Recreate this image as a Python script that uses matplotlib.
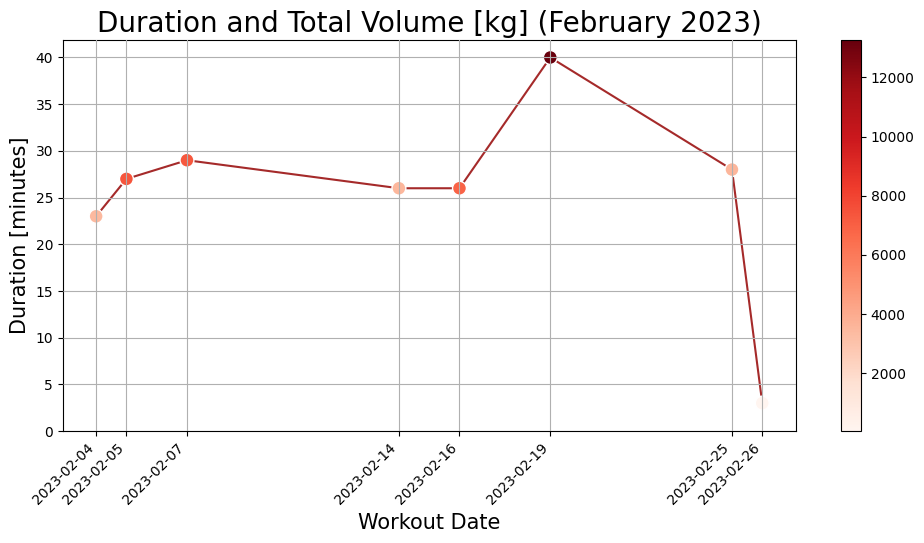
import matplotlib
matplotlib.use("Agg")
import matplotlib.pyplot as plt
import pandas as pd

dates = ["2023-02-04", "2023-02-05", "2023-02-07", "2023-02-14",
         "2023-02-16", "2023-02-19", "2023-02-25", "2023-02-26"]
duration = [23, 27, 29, 26, 26, 40, 28, 3]
total_volume = [3400, 7400, 7300, 3500, 6900, 13260, 3600, 40]

x = pd.to_datetime(dates)

fig = plt.figure(figsize=(9.24, 5.43), dpi=100)
ax = fig.add_axes([0.068, 0.206, 0.793, 0.72])
cax = fig.add_axes([0.910, 0.206, 0.0216, 0.72])

ax.set_axisbelow(False)
ax.plot(x, duration, color="brown", zorder=1)
sc = ax.scatter(x, duration, c=total_volume, cmap="Reds", s=100,
                edgecolors="white", zorder=2)
ax.grid(True)
ax.set_ylim(bottom=0)
ax.set_xticks(x)
ax.set_xticklabels(dates, rotation=45, ha="right")
ax.set_title("Duration and Total Volume [kg] (February 2023)", fontsize=20)
ax.set_xlabel("Workout Date", fontsize=15)
ax.set_ylabel("Duration [minutes]", fontsize=15)
fig.colorbar(sc, cax=cax)

fig.savefig("out.png", dpi=100)
